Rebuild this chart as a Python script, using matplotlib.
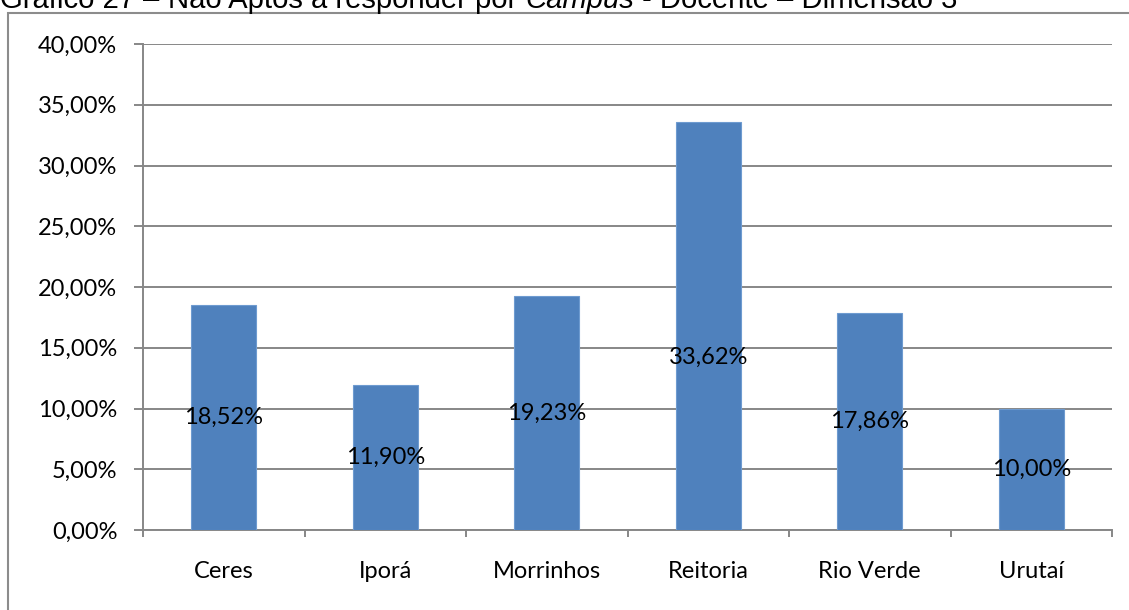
import matplotlib
matplotlib.use("Agg")
import matplotlib.pyplot as plt
from matplotlib.patches import Rectangle
from matplotlib.ticker import FuncFormatter, MultipleLocator

campi = ["Ceres", "Iporá", "Morrinhos", "Reitoria", "Rio Verde", "Urutaí"]
valores = [18.52, 11.90, 19.23, 33.62, 17.86, 10.00]
rotulos = ["18,52%", "11,90%", "19,23%", "33,62%", "17,86%", "10,00%"]

plt.rcParams["font.family"] = ["Lato", "DejaVu Sans"]

W, H = 1129, 610
fig = plt.figure(figsize=(W / 100, H / 100), dpi=100)
ax = fig.add_axes([143 / W, 1 - 530 / H, (1112 - 143) / W, (530 - 44) / H])

cinza = "#878787"
fs = 17
x = list(range(len(campi)))
ax.bar(x, valores, width=0.4, color="#4F81BD", edgecolor="#6E9BD0", linewidth=0.8, zorder=3)

# rótulos no meio da barra (Reitoria fica um pouco abaixo, como no original)
pos_rotulo = [v / 2 for v in valores]
pos_rotulo[3] = 14.2
for xi, yi, txt in zip(x, pos_rotulo, rotulos):
    ax.text(xi, yi, txt, ha="center", va="center", fontsize=fs, color="black", zorder=4)

ax.set_xlim(-0.5, len(campi) - 0.5)
ax.set_ylim(0, 40)
ax.yaxis.set_major_locator(MultipleLocator(5))
ax.yaxis.set_major_formatter(FuncFormatter(lambda v, p: "{:.2f}%".format(v).replace(".", ",")))
ax.grid(axis="y", color=cinza, linewidth=1.4, zorder=0)
ax.set_axisbelow(True)

ax.set_xticks([i - 0.5 for i in range(len(campi) + 1)])
ax.set_xticklabels([])
ax.set_xticks(x, minor=True)
ax.set_xticklabels(campi, minor=True, fontsize=fs)
ax.tick_params(axis="x", which="major", length=5, width=1.4, color=cinza, direction="out")
ax.tick_params(axis="x", which="minor", length=0, pad=22)
ax.tick_params(axis="y", length=6.5, width=1.4, color=cinza, labelsize=fs, pad=12)

for s in ["top", "right"]:
    ax.spines[s].set_visible(False)
for s in ["left", "bottom"]:
    ax.spines[s].set_color(cinza)
    ax.spines[s].set_linewidth(1.4)

# moldura do gráfico (cortada à direita e embaixo)
fig.patches.append(Rectangle((8 / W, -0.1), 1.2, 1 - 13 / H + 0.1, transform=fig.transFigure,
                             fill=False, edgecolor="#8C8C8C", linewidth=1.5))

# título parcialmente cortado no topo (como no original)
fam = "Liberation Sans"
base_y = 1 - 8 / H
fig.canvas.draw()
r = fig.canvas.get_renderer()
resto = [("Não Aptos a responder por ", "normal"),
         ("Campus", "italic"),
         (" - Docente – Dimensão 3", "normal")]


def escreve(x0, tam):
    objs = []
    for txt, st in resto:
        t = fig.text(x0 / W, base_y, txt, fontsize=tam, style=st, family=fam,
                     va="baseline", ha="left")
        x0 = t.get_window_extent(r).x1
        objs.append(t)
    return objs, x0


objs, fim = escreve(168, 20)
for t in objs:
    t.remove()
tam = 20 * (958 - 168) / (fim - 168)
escreve(168, tam)
t0 = fig.text(0, base_y, "Gráfico 27", fontsize=tam, family=fam, va="baseline", ha="left")
fim0 = t0.get_window_extent(r).x1
fig.text((fim0 + 168) / 2 / W, base_y, "–", fontsize=tam, family=fam,
         va="baseline", ha="center")

fig.savefig("out.png", dpi=100)
